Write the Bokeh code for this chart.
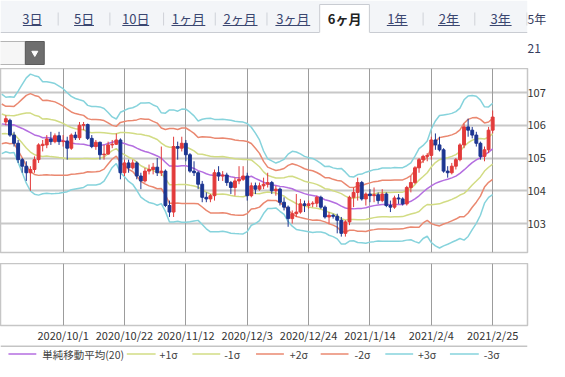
import numpy as np
import pandas as pd
from bokeh.plotting import figure
from bokeh.layouts import column
from bokeh.models import Range1d, FixedTicker, Grid
from bokeh.core.properties import value
from bokeh.embed import file_html
from bokeh.resources import INLINE

# ---------------- data ----------------
tick_index = [14, 29, 44, 59, 74, 89, 104, 119]
tick_labels = ["2020/10/1", "2020/10/22", "2020/11/12", "2020/12/3",
               "2020/12/24", "2021/1/14", "2021/2/4", "2021/2/25"]
price_ticks = [103, 104, 105, 106, 107]

# closes of the 20 sessions before the first drawn candle (needed for the 20-day bands)
prior_closes = [106.60, 105.95, 105.40, 106.10, 105.80, 105.80, 105.90, 106.40, 106.00, 106.55,
                105.40, 105.90, 105.95, 106.15, 106.15, 106.25, 106.25, 106.00, 106.15, 106.15]

opens = [106.10, 106.15, 105.70, 105.45, 104.95, 104.75, 104.55, 104.65, 104.95, 105.38,
         105.40, 105.58, 105.50, 105.68, 105.50, 105.52, 105.30, 105.70, 105.62, 106.00,
         106.02, 105.60, 105.35, 105.48, 105.10, 105.12, 105.40, 105.42, 105.55, 104.55,
         104.85, 104.70, 104.85, 104.45, 104.30, 104.60, 104.65, 104.72, 104.55, 104.60,
         103.55, 103.35, 105.35, 105.30, 105.45, 105.10, 104.60, 104.55, 104.20, 103.80,
         103.75, 103.85, 104.55, 104.45, 104.48, 104.25, 104.10, 104.30, 104.35, 104.45,
         103.85, 104.15, 104.05, 104.15, 104.20, 104.25, 104.00, 104.05, 103.65, 103.50,
         103.15, 103.30, 103.35, 103.60, 103.55, 103.60, 103.62, 103.80, 103.50, 103.20,
         103.25, 103.22, 103.10, 102.70, 103.05, 103.80, 103.95, 104.25, 103.75, 103.90,
         103.85, 103.88, 103.70, 103.90, 103.55, 103.50, 103.78, 103.75, 103.60, 104.10,
         104.25, 104.70, 104.95, 105.05, 105.08, 105.55, 105.40, 105.25, 104.60, 104.55,
         104.75, 104.95, 105.40, 105.95, 105.85, 105.70, 105.45, 105.05, 105.25, 105.85]
highs = [106.30, 106.20, 105.80, 105.55, 105.00, 104.90, 104.75, 105.05, 105.45, 105.55,
         105.70, 105.80, 105.75, 105.80, 105.70, 105.65, 105.75, 105.80, 106.10, 106.10,
         106.05, 105.70, 105.55, 105.50, 105.40, 105.50, 105.55, 105.75, 105.60, 104.95,
         104.95, 104.95, 104.90, 104.55, 104.70, 104.80, 104.85, 105.00, 105.35, 104.65,
         103.70, 105.65, 105.50, 105.65, 105.55, 105.15, 104.90, 104.60, 104.30, 103.95,
         103.90, 104.65, 104.75, 104.60, 104.55, 104.30, 104.40, 104.75, 104.75, 104.55,
         104.25, 104.25, 104.25, 104.40, 104.55, 104.30, 104.15, 104.10, 103.80, 103.55,
         103.40, 103.90, 103.75, 103.70, 103.70, 103.68, 103.85, 103.85, 103.55, 103.35,
         103.30, 103.30, 103.20, 103.10, 103.85, 104.10, 104.40, 104.30, 103.95, 104.05,
         104.10, 103.95, 104.05, 103.95, 103.70, 103.85, 103.90, 103.80, 104.15, 104.45,
         104.75, 105.00, 105.10, 105.15, 105.65, 105.75, 105.65, 105.30, 104.75, 104.85,
         105.00, 105.45, 106.05, 106.20, 105.95, 105.80, 105.50, 105.35, 105.95, 106.45]
lows = [106.00, 105.65, 105.35, 104.85, 104.55, 104.30, 104.00, 104.55, 104.85, 105.20,
        105.30, 105.40, 105.45, 105.40, 105.35, 104.95, 105.25, 105.55, 105.55, 105.85,
        105.55, 105.30, 105.25, 104.95, 104.95, 105.10, 105.30, 105.40, 104.35, 104.45,
        104.55, 104.65, 104.35, 104.05, 104.25, 104.50, 104.50, 104.45, 104.45, 103.50,
        103.20, 103.20, 104.95, 105.20, 104.90, 104.55, 104.45, 104.05, 103.65, 103.65,
        103.65, 103.70, 104.30, 104.30, 104.15, 103.90, 103.85, 104.20, 104.30, 103.70,
        103.80, 103.90, 104.00, 104.05, 104.10, 103.90, 103.85, 103.55, 103.40, 102.90,
        103.00, 103.20, 103.30, 103.35, 103.45, 103.50, 103.50, 103.45, 103.15, 103.00,
        103.15, 102.70, 102.60, 102.60, 102.95, 103.50, 103.70, 103.70, 103.55, 103.65,
        103.65, 103.60, 103.65, 103.50, 103.35, 103.45, 103.60, 103.55, 103.55, 103.95,
        104.20, 104.55, 104.85, 104.90, 104.95, 105.25, 105.20, 104.55, 104.40, 104.50,
        104.65, 104.90, 105.30, 105.65, 105.60, 105.35, 104.95, 104.90, 105.15, 105.75]
closes = [106.20, 105.70, 105.45, 104.95, 104.75, 104.55, 104.65, 104.95, 105.40, 105.42,
          105.58, 105.50, 105.68, 105.50, 105.52, 105.30, 105.70, 105.62, 106.00, 106.02,
          105.60, 105.35, 105.48, 105.10, 105.12, 105.40, 105.42, 105.55, 104.55, 104.85,
          104.70, 104.85, 104.45, 104.30, 104.60, 104.65, 104.72, 104.55, 104.60, 103.55,
          103.35, 105.35, 105.30, 105.45, 105.10, 104.60, 104.55, 104.20, 103.80, 103.75,
          103.85, 104.55, 104.45, 104.48, 104.25, 104.10, 104.30, 104.35, 104.45, 103.85,
          104.15, 104.05, 104.15, 104.20, 104.25, 104.00, 104.05, 103.65, 103.50, 103.15,
          103.30, 103.35, 103.60, 103.55, 103.60, 103.62, 103.80, 103.50, 103.20, 103.25,
          103.22, 103.10, 102.70, 103.05, 103.80, 103.95, 104.25, 103.75, 103.90, 103.85,
          103.88, 103.70, 103.90, 103.55, 103.50, 103.78, 103.75, 103.60, 104.10, 104.25,
          104.70, 104.95, 105.05, 105.08, 105.55, 105.40, 105.25, 104.60, 104.55, 104.75,
          104.95, 105.40, 105.95, 105.85, 105.70, 105.45, 105.05, 105.25, 105.85, 106.25]

tabs = ["3日", "5日", "10日", "1ヶ月", "2ヶ月", "3ヶ月", "6ヶ月", "1年", "2年", "3年"]
last_tab = "5年"
selected_tab = "6ヶ月"
corner_text = "21"
legend_labels = ["単純移動平均(20)", "+1σ", "-1σ", "+2σ", "-2σ", "+3σ", "-3σ"]

# ---------------- derived ----------------
n = len(closes)
x = np.arange(n)
npre = len(prior_closes)
allc = pd.Series(prior_closes + closes)
sma_all = allc.rolling(20).mean().to_numpy()
sd_all = allc.rolling(20).std(ddof=0).to_numpy()
xb = np.arange(-1, n)                       # bands drawn from the last prior session on
sma = sma_all[npre - 1:]
sd = sd_all[npre - 1:]

UP, DOWN = "#e23b3b", "#1c3591"
colors = [UP if c >= o else DOWN for o, c in zip(opens, closes)]
body_top = np.maximum(opens, closes)
body_bot = np.minimum(opens, closes)

C_MA, C_1, C_2, C_3 = "#b46ee0", "#d2dc84", "#ea8870", "#86d3dc"
band_specs = [(3, C_3), (-3, C_3), (2, C_2), (-2, C_2), (1, C_1), (-1, C_1)]

FONT = "Noto Sans CJK JP"
W = 549
FRAME_W = 530
RB = W - FRAME_W

# ---------------- header (tabs) ----------------
head = figure(width=W, height=68, x_range=Range1d(0, FRAME_W), y_range=Range1d(68, 0),
              output_backend="svg", toolbar_location=None,
              x_axis_location=None, y_axis_location="right",
              min_border_left=0, min_border_top=0, min_border_bottom=0, min_border_right=RB,
              outline_line_color=None)
head.xgrid.visible = False
head.ygrid.visible = False
# the texts beyond the frame's right edge ("5年" tab, "21") are written by the right axis
hax = head.yaxis[0]
hax.ticker = FixedTicker(ticks=[18, 47])
hax.major_label_overrides = {18: last_tab, 47: corner_text}
hax.axis_line_color = None
hax.major_tick_line_color = None
hax.minor_tick_line_color = None
hax.major_tick_out = 0
hax.major_tick_in = 0
hax.major_label_standoff = 0
hax.major_label_text_font = FONT
hax.major_label_text_font_size = "12px"
hax.major_label_text_color = "#353d5e"

head.quad(left=[0], right=[FRAME_W], top=[0], bottom=[32], fill_color="#f3f5f8", line_color=None)
tab_cx = [32, 84, 136, 189, 241, 294, 346, 399, 451, 503]
tab_w = [19, 20, 27, 34, 35, 35, 32, 21, 22, 22]
head.segment(x0=[0, 371], y0=[32, 32], x1=[321, FRAME_W], y1=[32, 32], line_color="#c9ccd2", line_width=1)
head.quad(left=[321], right=[371], top=[4], bottom=[32.5], fill_color="white", line_color=None)
head.segment(x0=[321, 371, 321], y0=[4, 4, 4], x1=[321, 371, 371], y1=[32, 32, 4],
             line_color="#c9ccd2", line_width=1)
seps = [58, 110, 164, 216, 268, 425, 477, 529.5]
head.segment(x0=seps, y0=[12] * len(seps), x1=seps, y1=[25] * len(seps), line_color="#cfd2d8")
for t, cx, w in zip(tabs, tab_cx, tab_w):
    sel = t == selected_tab
    head.text([cx], [18], text=[t], text_align="center", text_baseline="middle",
              text_font=value(FONT), text_font_size="13px",
              text_font_style="bold" if sel else "normal",
              text_color="#222222" if sel else "#3a4670")
    if not sel:
        head.segment([cx - w / 2], [25], [cx + w / 2], [25], line_color="#3a4670", line_width=1)
# drop-down box
head.quad(left=[-2], right=[25], top=[41], bottom=[64], fill_color="#f6f6f6", line_color="#b5b5b5")
head.quad(left=[25], right=[44], top=[41], bottom=[64], fill_color="#6e6e6e", line_color="#5a5a5a")
head.scatter([34.5], [52.5], marker="inverted_triangle", size=6, color="white")

# ---------------- main price panel ----------------
xr = Range1d(-1.31, 127.51)
main = figure(width=W, height=195, x_range=xr, y_range=Range1d(102.115, 107.733),
              output_backend="svg", toolbar_location=None,
              x_axis_location=None, y_axis_location="right",
              min_border_left=0, min_border_top=0, min_border_bottom=11, min_border_right=RB,
              outline_line_color="#c6c6c6", outline_line_width=1.5)
main.xgrid.visible = False
main.ygrid.visible = False
main.add_layout(Grid(dimension=1, ticker=FixedTicker(ticks=price_ticks),
                     grid_line_color="#c8c8c8", grid_line_width=2))
main.add_layout(Grid(dimension=0, ticker=FixedTicker(ticks=tick_index),
                     grid_line_color="#9c9c9c", grid_line_width=1))
ax = main.yaxis[0]
ax.ticker = FixedTicker(ticks=price_ticks)
ax.axis_line_color = None
ax.major_tick_line_color = None
ax.minor_tick_line_color = None
ax.major_tick_out = 0
ax.major_tick_in = 0
ax.major_label_standoff = 0
ax.major_label_text_font = FONT
ax.major_label_text_font_size = "11px"
ax.major_label_text_color = "#333333"

for k, col in band_specs:
    main.line(xb, sma + k * sd, line_color=col, line_width=1.5)
main.line(xb, sma, line_color=C_MA, line_width=1.5)
main.segment(x0=x, y0=lows, x1=x, y1=highs, line_color=colors, line_width=1)
main.vbar(x=x, width=0.7, top=body_top, bottom=body_bot, fill_color=colors,
          line_color=colors, line_width=1)

# ---------------- lower (empty) panel with date axis ----------------
lower = figure(width=W, height=82, x_range=xr, y_range=Range1d(0, 1),
               output_backend="svg", toolbar_location=None,
               x_axis_location="below", y_axis_location=None,
               min_border_left=0, min_border_top=0, min_border_bottom=14, min_border_right=RB,
               outline_line_color="#c6c6c6", outline_line_width=1.5)
lower.xgrid.visible = False
lower.ygrid.visible = False
lower.add_layout(Grid(dimension=0, ticker=FixedTicker(ticks=tick_index),
                      grid_line_color="#9c9c9c", grid_line_width=1))
xa = lower.xaxis[0]
xa.ticker = FixedTicker(ticks=tick_index)
xa.major_label_overrides = {t: lab for t, lab in zip(tick_index, tick_labels)}
xa.axis_line_color = None
xa.major_tick_line_color = None
xa.minor_tick_line_color = None
xa.major_tick_out = 0
xa.major_tick_in = 0
xa.major_label_standoff = 1
xa.major_label_text_font = FONT
xa.major_label_text_font_size = "11px"
xa.major_label_text_color = "#333333"

# ---------------- legend strip ----------------
leg = figure(width=W, height=16, x_range=Range1d(0, FRAME_W), y_range=Range1d(361, 345),
             output_backend="svg", toolbar_location=None,
             x_axis_location=None, y_axis_location=None,
             min_border_left=0, min_border_top=0, min_border_bottom=0, min_border_right=RB,
             outline_line_color=None)
leg.xgrid.visible = False
leg.ygrid.visible = False
leg.segment([0], [345.5], [FRAME_W], [345.5], line_color="#8a8a8a", line_width=1)
leg_colors = [C_MA, C_1, C_1, C_2, C_2, C_3, C_3]
leg_line_x = [(8, 36), (127, 156), (193, 221), (257, 285), (322, 350), (387, 415), (452, 481)]
leg_text_x = [42, 160, 225, 291, 356, 420, 486]
for lab, col, (a, b), tx in zip(legend_labels, leg_colors, leg_line_x, leg_text_x):
    leg.segment([a], [353.5], [b], [353.5], line_color=col, line_width=1.5)
    leg.text([tx], [353.5], text=[lab], text_align="left", text_baseline="middle",
             text_font=value(FONT), text_font_size="10.5px", text_color="#444444")

layout = column(head, main, lower, leg, spacing=0)
open("out.html", "w").write(file_html(layout, INLINE))
